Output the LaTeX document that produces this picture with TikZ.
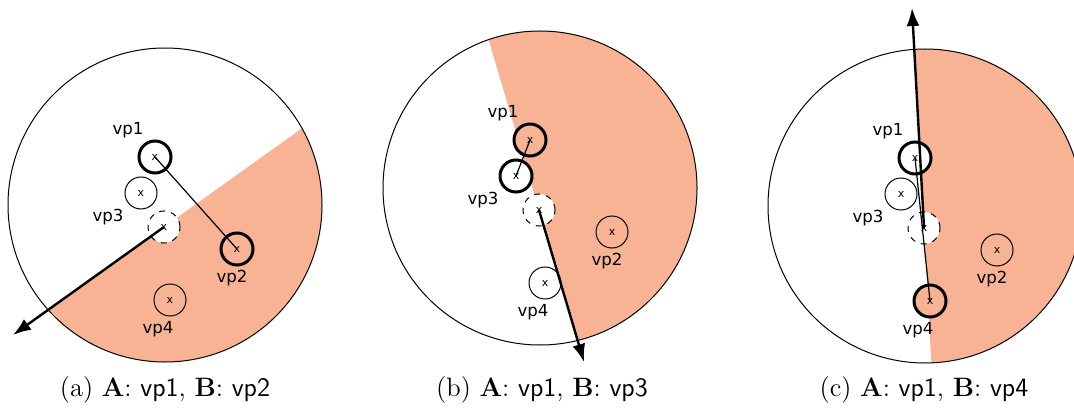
\documentclass[tikz,border=0pt]{standalone}
\usepackage{fontspec}
\newfontfamily\lblfont{DejaVu Sans}
\usetikzlibrary{calc,arrows.meta}
\definecolor{shadecol}{RGB}{247,179,147}
\tikzset{
  vp/.style={circle, draw, line width=0.5pt, minimum size=16pt, inner sep=0pt,
    font=\lblfont\fontsize{5.5}{6}\selectfont},
  vpsel/.style={vp, line width=1.5pt},
  vpctr/.style={vp, dashed, fill=white},
  lbl/.style={font=\lblfont\fontsize{8.3}{9}\selectfont, inner sep=0pt},
  bigdisk/.style={draw, line width=0.5pt},
  conn/.style={line width=0.6pt},
  grad/.style={line width=1.2pt, -{Latex[length=9pt,width=6.5pt]}},
  captxt/.style={font=\fontsize{13.3}{15}\selectfont, inner sep=0pt}
}
\begin{document}
\begin{tikzpicture}[x=0.5pt,y=-0.5pt]
\useasboundingbox (0,0) rectangle (1074,411);
% ---------------- panel (a)
\begin{scope}[shift={(165,205)}]
  \coordinate (aD0) at (-1,22);
  \coordinate (aT) at (-152,130);
  \begin{scope}
    \clip (0,0) circle[radius=157];
    \fill[shadecol] ($(aD0)+3*(-151,108)$) -- ($(aD0)-3*(-151,108)$)
      -- ($(aD0)-3*(-151,108)+3*(108,151)$) -- ($(aD0)+3*(-151,108)+3*(108,151)$) -- cycle;
  \end{scope}
  \node[bigdisk, circle, minimum size=157pt, inner sep=0pt] (aBig) at (0,0) {};
  \node[vpsel, fill=white] (a1) at (-10,-48) {x};
  \node[vp] (a3) at (-24,-12) {x};
  \node[vpsel] (a2) at (72,44) {x};
  \node[vp] (a4) at (5,95) {x};
  \node[vpctr] (aD) at (aD0) {x};
  \draw[conn] (a1.center) -- (a2.center);
  \draw[grad] (aD.center) -- (aT);
  \node[lbl] (la1) at (-37,-75) {vp1};
  \node[lbl] (la3) at (-57,12) {vp3};
  \node[lbl] (la2) at (67,73) {vp2};
  \node[lbl] (la4) at (-7,124) {vp4};
\end{scope}
% ---------------- panel (b)
\begin{scope}[shift={(540,188)}]
  \coordinate (bD0) at (-1,22);
  \coordinate (bT) at (44,174);
  \begin{scope}
    \clip (0,0) circle[radius=157];
    \fill[shadecol] ($(bD0)+3*(45,152)$) -- ($(bD0)-3*(45,152)$)
      -- ($(bD0)-3*(45,152)+3*(152,-45)$) -- ($(bD0)+3*(45,152)+3*(152,-45)$) -- cycle;
  \end{scope}
  \node[bigdisk, circle, minimum size=157pt, inner sep=0pt] (bBig) at (0,0) {};
  \node[vpsel, fill=shadecol] (b1) at (-10,-48) {x};
  \node[vpsel, fill=white] (b3) at (-24,-12) {x};
  \node[vp] (b2) at (72,44) {x};
  \node[vp] (b4) at (5,95) {x};
  \node[vpctr] (bD) at (bD0) {x};
  \draw[conn] (b1.center) -- (b3.center);
  \draw[grad] (bD.center) -- (bT);
  \node[lbl] (lb1) at (-37,-75) {vp1};
  \node[lbl] (lb3) at (-57,12) {vp3};
  \node[lbl] (lb2) at (67,73) {vp2};
  \node[lbl] (lb4) at (-7,124) {vp4};
\end{scope}
% ---------------- panel (c)
\begin{scope}[shift={(925,206)}]
  \coordinate (cD0) at (-1,22);
  \coordinate (cT) at (-13,-198);
  \begin{scope}
    \clip (0,0) circle[radius=157];
    \fill[shadecol] ($(cD0)+3*(-12,-220)$) -- ($(cD0)-3*(-12,-220)$)
      -- ($(cD0)-3*(-12,-220)+3*(220,-12)$) -- ($(cD0)+3*(-12,-220)+3*(220,-12)$) -- cycle;
  \end{scope}
  \node[bigdisk, circle, minimum size=157pt, inner sep=0pt] (cBig) at (0,0) {};
  \node[vpsel, fill=white] (c1) at (-10,-48) {x};
  \node[vp] (c3) at (-24,-12) {x};
  \node[vp] (c2) at (72,44) {x};
  \node[vpsel, fill=shadecol] (c4) at (5,95) {x};
  \node[vpctr] (cD) at (cD0) {x};
  \draw[conn] (c1.center) -- (c4.center);
  \draw[grad] (cD.center) -- (cT);
  \node[lbl] (lc1) at (-37,-75) {vp1};
  \node[lbl] (lc3) at (-57,12) {vp3};
  \node[lbl] (lc2) at (67,73) {vp2};
  \node[lbl] (lc4) at (-7,124) {vp4};
\end{scope}
% ---------------- captions
\node[captxt] (capa) at (165,390) {(a) \textbf{A}: \textsf{vp1}, \textbf{B}: \textsf{vp2}};
\node[captxt] (capb) at (542,390) {(b) \textbf{A}: \textsf{vp1}, \textbf{B}: \textsf{vp3}};
\node[captxt] (capc) at (924,390) {(c) \textbf{A}: \textsf{vp1}, \textbf{B}: \textsf{vp4}};
\end{tikzpicture}
\end{document}
